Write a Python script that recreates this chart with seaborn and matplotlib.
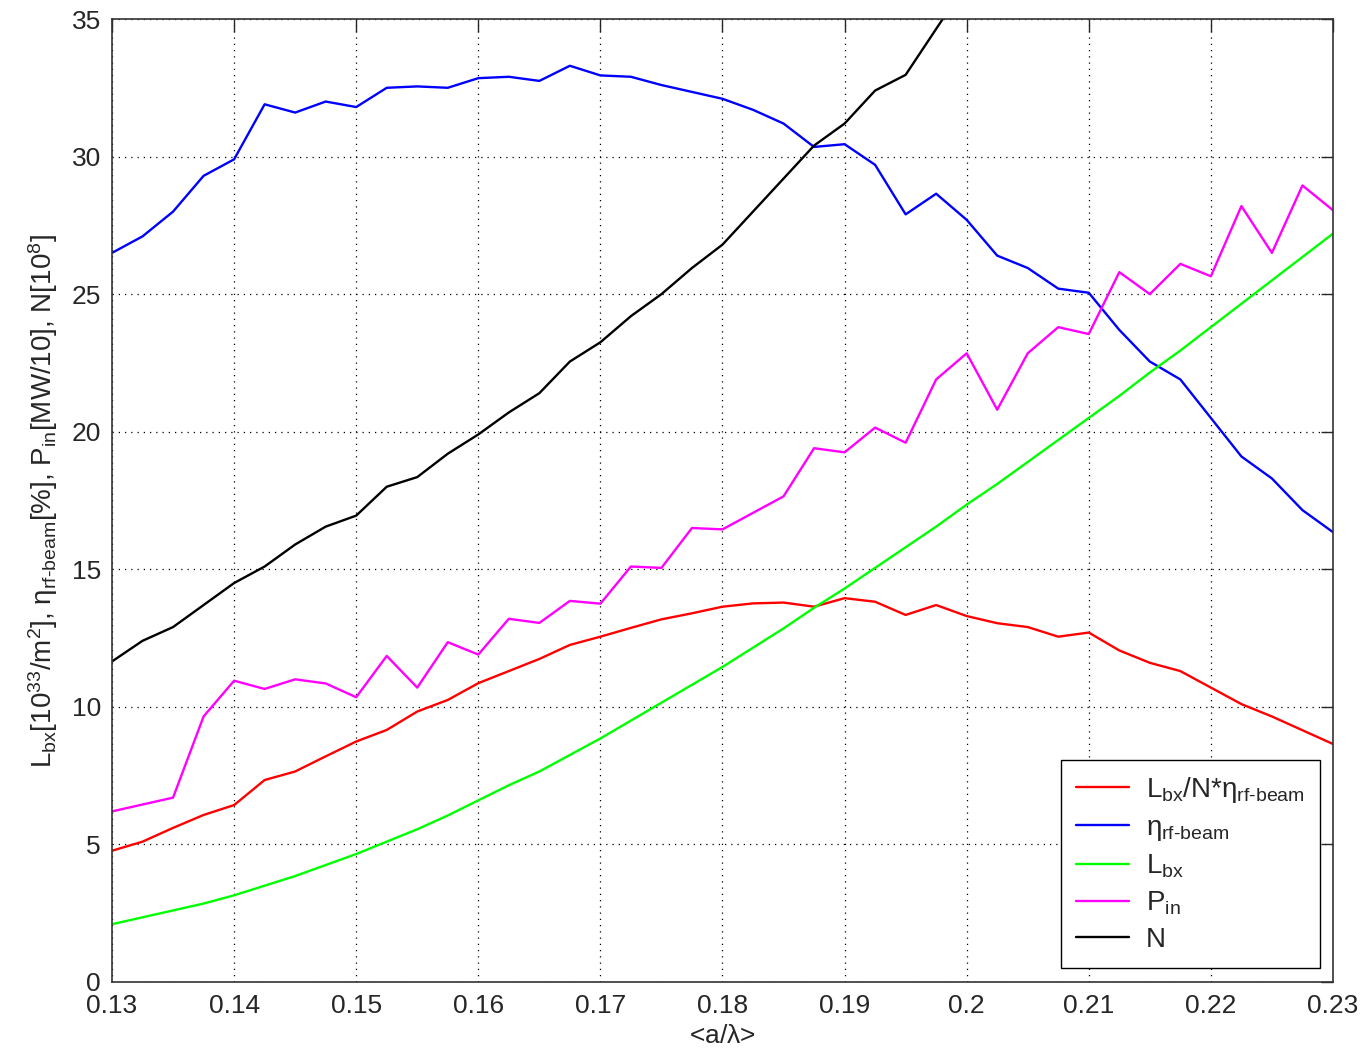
import numpy as np
import pandas as pd
import matplotlib
matplotlib.use("Agg")
import matplotlib.pyplot as plt
import seaborn as sns

# <a/lambda> sampling, one point every 0.0025
a_over_lambda = [0.13, 0.1325, 0.135, 0.1375, 0.14, 0.1425, 0.145, 0.1475, 0.15, 0.1525,
                 0.155, 0.1575, 0.16, 0.1625, 0.165, 0.1675, 0.17, 0.1725, 0.175, 0.1775,
                 0.18, 0.1825, 0.185, 0.1875, 0.19, 0.1925, 0.195, 0.1975, 0.2, 0.2025,
                 0.205, 0.2075, 0.21, 0.2125, 0.215, 0.2175, 0.22, 0.2225, 0.225, 0.2275, 0.23]

# Lbx / N * eta
lum_per_n = [4.77, 5.1, 5.6, 6.07, 6.43, 7.34, 7.65, 8.2, 8.74, 9.16,
             9.83, 10.25, 10.86, 11.3, 11.74, 12.25, 12.55, 12.87, 13.18, 13.4,
             13.64, 13.76, 13.79, 13.64, 13.95, 13.82, 13.34, 13.7, 13.3, 13.04,
             12.9, 12.55, 12.7, 12.05, 11.6, 11.3, 10.7, 10.1, 9.65, 9.15, 8.65]

# eta rf-beam [%]
eta_rf_beam = [26.5, 27.1, 28.0, 29.3, 29.9, 31.9, 31.6, 32.0, 31.8, 32.5,
               32.55, 32.5, 32.85, 32.9, 32.75, 33.3, 32.95, 32.9, 32.6, 32.35,
               32.1, 31.7, 31.2, 30.35, 30.45, 29.7, 27.9, 28.65, 27.7, 26.4,
               25.95, 25.2, 25.05, 23.7, 22.55, 21.9, 20.5, 19.1, 18.3, 17.15, 16.35]

# Lbx [1e33/m^2]
lum_bx = [2.1, 2.35, 2.6, 2.85, 3.15, 3.5, 3.85, 4.25, 4.65, 5.1,
          5.55, 6.05, 6.6, 7.15, 7.65, 8.25, 8.85, 9.5, 10.15, 10.8,
          11.45, 12.15, 12.85, 13.6, 14.3, 15.05, 15.8, 16.55, 17.35, 18.1,
          18.9, 19.7, 20.5, 21.3, 22.15, 22.95, 23.8, 24.65, 25.5, 26.35, 27.2]

# Pin [MW/10]
p_in = [6.2, 6.45, 6.7, 9.65, 10.95, 10.65, 11.0, 10.85, 10.35, 11.85,
        10.7, 12.35, 11.9, 13.2, 13.05, 13.85, 13.75, 15.1, 15.05, 16.5,
        16.45, 17.05, 17.65, 19.4, 19.25, 20.15, 19.6, 21.9, 22.85, 20.8,
        22.85, 23.8, 23.55, 25.8, 25.0, 26.1, 25.65, 28.2, 26.5, 28.95, 28.05]

# N [1e8], runs off the top of the axes after 0.1975
n_particles = [11.65, 12.4, 12.9, 13.7, 14.5, 15.1, 15.9, 16.55, 16.95, 18.0,
               18.35, 19.2, 19.9, 20.7, 21.4, 22.55, 23.25, 24.2, 25.0, 25.95,
               26.8, 28.0, 29.2, 30.4, 31.2, 32.4, 32.97, 34.64, 36.3]

x_tick_labels = ["0.13", "0.14", "0.15", "0.16", "0.17", "0.18", "0.19", "0.2", "0.21", "0.22", "0.23"]

labels = [r"L$_{\rm bx}$/N*$\eta_{\rm rf\text{-}beam}$",
          r"$\eta_{\rm rf\text{-}beam}$",
          r"L$_{\rm bx}$",
          r"P$_{\rm in}$",
          "N"]
colors = ["#ff0000", "#0000ff", "#00ff00", "#ff00ff", "#000000"]

sns.set_style("white")
plt.rcParams["font.family"] = ["Liberation Sans", "DejaVu Sans"]
plt.rcParams["mathtext.fontset"] = "custom"
plt.rcParams["mathtext.rm"] = "Liberation Sans"
plt.rcParams["mathtext.it"] = "Liberation Sans"

fig = plt.figure(figsize=(13.61, 10.56), dpi=100)
ax = fig.add_axes([0.0823, 0.0701, 0.8971, 0.9119])

series = [lum_per_n, eta_rf_beam, lum_bx, p_in, n_particles]
for vals, lab, col in zip(series, labels, colors):
    df = pd.DataFrame({"x": a_over_lambda[:len(vals)], "y": vals})
    sns.lineplot(data=df, x="x", y="y", color=col, linewidth=1.7, label=lab, ax=ax)

ax.set_xlim(0.13, 0.23)
ax.set_ylim(0, 35)
ax.set_xticks(np.arange(0.13, 0.2301, 0.01))
ax.set_xticklabels(x_tick_labels)
ax.set_yticks(range(0, 36, 5))
ax.tick_params(direction="in", length=9, width=1, labelsize=19, top=True, right=True)
ax.tick_params(axis="x", pad=9)
ax.tick_params(axis="y", pad=8)
ax.grid(True, linestyle=(0, (1, 4)), color="black", linewidth=0.9)
for sp in ax.spines.values():
    sp.set_color("#333333")
    sp.set_linewidth(1.2)

ax.set_xlabel(r"<a/$\lambda$>", fontsize=19, labelpad=4)
ax.set_ylabel(r"L$_{\rm bx}$[10$^{33}$/m$^2$], $\eta_{\rm rf\text{-}beam}$[%], P$_{\rm in}$[MW/10], N[10$^8$]",
              fontsize=20, labelpad=8)

leg = ax.legend(loc="lower right", fontsize=20, frameon=True, fancybox=False, framealpha=1,
                edgecolor="black", handlelength=1.9, handletextpad=0.6, borderpad=0.55,
                labelspacing=0.35, bbox_to_anchor=(0.989, 0.0145), borderaxespad=0)
leg.get_frame().set_linewidth(1.0)

fig.savefig("out.png", dpi=100)
